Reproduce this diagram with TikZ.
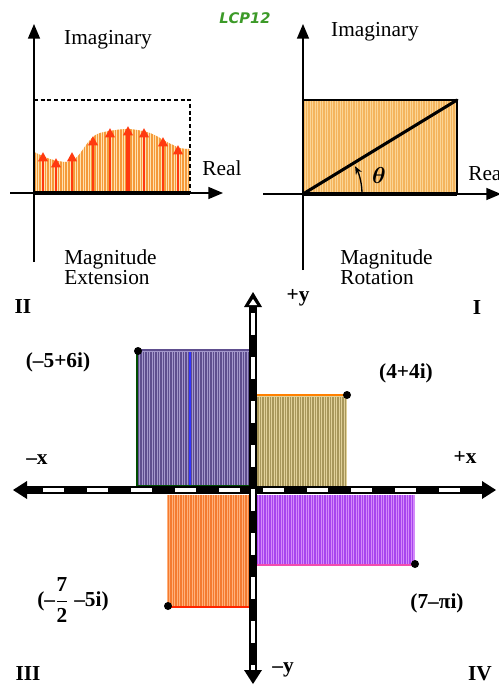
\documentclass[tikz,border=0pt]{standalone}
\usepackage{fontspec}
\usepackage{amsmath}
\setmainfont{Liberation Serif}
\newfontfamily\lcpfont{DejaVu Sans}
\usetikzlibrary{arrows.meta}
\definecolor{orS}{HTML}{F59A3A}
\definecolor{orL}{HTML}{FFE2B0}
\definecolor{redA}{HTML}{FF3A10}
\definecolor{rfill}{HTML}{FBD595}
\definecolor{rstripe}{HTML}{F4B45C}
\definecolor{purB}{HTML}{A498CC}
\definecolor{purS}{HTML}{5E4E8E}
\definecolor{tanB}{HTML}{E2D29A}
\definecolor{tanS}{HTML}{A8975A}
\definecolor{oraB}{HTML}{FFB07A}
\definecolor{oraS}{HTML}{F47A30}
\definecolor{magB}{HTML}{D58AFA}
\definecolor{magS}{HTML}{A845EE}
\definecolor{lcpgreen}{HTML}{3C9A28}
\begin{document}
\begin{tikzpicture}[x=0.75pt,y=-0.75pt,
  lbl/.style={font=\fontsize{16}{17}\selectfont, inner sep=0pt},
  blbl/.style={font=\fontsize{16}{17}\selectfont\bfseries, inner sep=0pt},
  twoline/.style={font=\fontsize{16}{13.5}\selectfont, inner sep=0pt, align=left, anchor=west},
  axis/.style={line width=1.1pt, -{Triangle[length=11pt,width=9pt]}},
  redarr/.style={draw=redA, -{Triangle[length=7pt,width=7pt]}},
  dot/.style={circle, fill=black, inner sep=0pt, minimum size=6pt}]
\useasboundingbox (0,0) rectangle (499,685);

% ---------- LCP12 ----------
\node[font=\lcpfont\bfseries\itshape\fontsize{11}{12}\selectfont, text=lcpgreen] (lcp) at (245,18) {LCP12};

% ---------- top-left panel ----------
\begin{scope}
\clip (34,193) -- plot[smooth] coordinates {(34,152) (50,159) (67,162) (77,157) (90,140) (100,133) (127,129) (150,133) (167,142) (180,148) (190,149)} -- (190,193) -- cycle;
\fill[orL] (30,120) rectangle (195,196);
\foreach \x in {35,37.6,...,190} \draw[orS, line width=1.1pt] (\x,120) -- (\x,196);
\end{scope}
\draw[dash pattern=on 3pt off 2pt, line width=1pt] (34,100) -- (190,100) -- (190,193);
\coordinate (l-ybot) at (34,262);
\coordinate (l-ytop) at (34,24);
\coordinate (l-xl) at (10,193);
\coordinate (l-xr) at (223,193);
\draw[axis] (l-ybot) -- (l-ytop);
\draw[axis] (l-xl) -- (l-xr);
\draw[line width=3.6pt] (34,193) -- (190,193);
\foreach \x/\t/\w in {43/152/1.6, 56/158/1.5, 72/152/1.8, 93/136/2.0, 110/128/2.2, 128/126/2.7, 144/128/2.2, 163/137/2.0, 178/145/1.7}
  \draw[redarr, line width=\w pt] (\x,191) -- (\x,\t);
\node[lbl] (l-im) at (108,40) {Imaginary};
\node[lbl] (l-re) at (222,168) {Real};
\node[twoline] (l-mag) at (64,267) {Magnitude\\Extension};

% ---------- top-right panel ----------
\fill[rfill] (303,100) rectangle (457,194);
\foreach \x in {304,306.5,...,456} \draw[rstripe, line width=0.9pt] (\x,101) -- (\x,193);
\draw[line width=1pt] (303,100) -- (457,100) -- (457,194);
\coordinate (r-o) at (303,194);
\coordinate (r-c) at (457,100);
\coordinate (r-ybot) at (303,270);
\coordinate (r-ytop) at (303,24);
\coordinate (r-xl) at (263,194);
\coordinate (r-xr) at (501,194);
\draw[axis] (r-ybot) -- (r-ytop);
\draw[axis] (r-xl) -- (r-xr);
\draw[line width=3pt] (r-o) -- (457,194);
\draw[line width=2.3pt, line cap=round] (r-o) -- (r-c);
\draw[line width=1pt, -{Stealth[length=6pt,width=5pt]}] (362,194) arc[start angle=0, end angle=-28, radius=59];
\node[font=\fontsize{16}{17}\selectfont] (theta) at (379,175) {$\boldsymbol{\theta}$};
\node[lbl] (r-im) at (375,32) {Imaginary};
\node[lbl, anchor=west] (r-re) at (468,173) {Real};
\node[twoline] (r-mag) at (340,267) {Magnitude\\Rotation};

% ---------- bottom panel: rectangles ----------
% (-5+6i)
\fill[purB] (137,350) rectangle (250,486);
\foreach \x in {138.5,141,...,249} \draw[purS, line width=0.8pt] (\x,352) -- (\x,485);
\draw[blue!80, line width=0.8pt] (190,352) -- (190,485);
\draw[green!30!black, line width=0.9pt] (137,350) -- (137,486) -- (250,486);
\draw[purS, line width=0.9pt] (137,350) -- (250,350);
% (4+4i)
\fill[tanB] (256,395) rectangle (347,487);
\foreach \x in {258,260.5,...,346} \draw[tanS, line width=0.8pt] (\x,397) -- (\x,486);
\draw[orange, line width=1pt] (256,395) -- (347,395);
% (-7/2 -5i)
\fill[oraB] (167,495) rectangle (250,607);
\foreach \x in {168.5,171,...,249} \draw[oraS, line width=0.9pt] (\x,495) -- (\x,606);
\draw[red!70!orange, line width=0.8pt] (167,607) -- (250,607);
% (7 - pi i)
\fill[magB] (256,495) rectangle (415,565);
\foreach \x in {257.5,260,...,414} \draw[magS, line width=0.9pt] (\x,495) -- (\x,564);
\draw[magenta!70, line width=0.8pt] (256,565) -- (415,565);

% dots
\node[dot] (p1) at (138,351) {};
\node[dot] (p2) at (347,395) {};
\node[dot] (p3) at (168,606) {};
\node[dot] (p4) at (415,564) {};

% ---------- bottom panel: axes ----------
\coordinate (b-xl) at (24,490);
\coordinate (b-xr) at (484,490);
\coordinate (b-yt) at (253,304);
\coordinate (b-yb) at (253,672);
\draw[line width=6pt] (b-xl) -- (b-xr);
\draw[white, line width=3pt] (b-xl) -- (b-xr);
\draw[line width=3pt, dash pattern=on 17pt off 16pt, dash phase=3pt] (b-xl) -- (b-xr);
\draw[line width=6pt] (b-yt) -- (b-yb);
\draw[white, line width=3pt] (b-yt) -- (b-yb);
\draw[line width=3pt, dash pattern=on 17pt off 16pt, dash phase=10pt] (b-yt) -- (b-yb);
\fill (13,490) -- (27,481) -- (27,499) -- cycle;
\fill (496,490) -- (482,481) -- (482,499) -- cycle;
\fill (253,292) -- (244,307) -- (262,307) -- cycle;
\fill[white] (253,299) -- (249,305) -- (257,305) -- cycle;
\fill (253,684) -- (244,670) -- (262,670) -- cycle;

% ---------- bottom panel: labels ----------
\node[blbl] (qII) at (23,307) {II};
\node[blbl] (qI) at (477,308) {I};
\node[blbl] (py) at (298,298) {+y};
\node[blbl] (l1) at (58,362) {(–5+6i)};
\node[blbl] (l2) at (406,373) {(4+4i)};
\node[blbl] (mx) at (37,460) {–x};
\node[blbl] (pxl) at (465,457) {+x};
\node[blbl] (l3) at (73,600) {(–$\dfrac{\text{7}}{\text{2}}$ –5i)};
\node[blbl] (qIII) at (28,674) {III};
\node[blbl] (l4) at (437,603) {(7–πi)};
\node[blbl] (my) at (283,670) {–y};
\node[blbl] (qIV) at (480,674) {IV};
\end{tikzpicture}
\end{document}
